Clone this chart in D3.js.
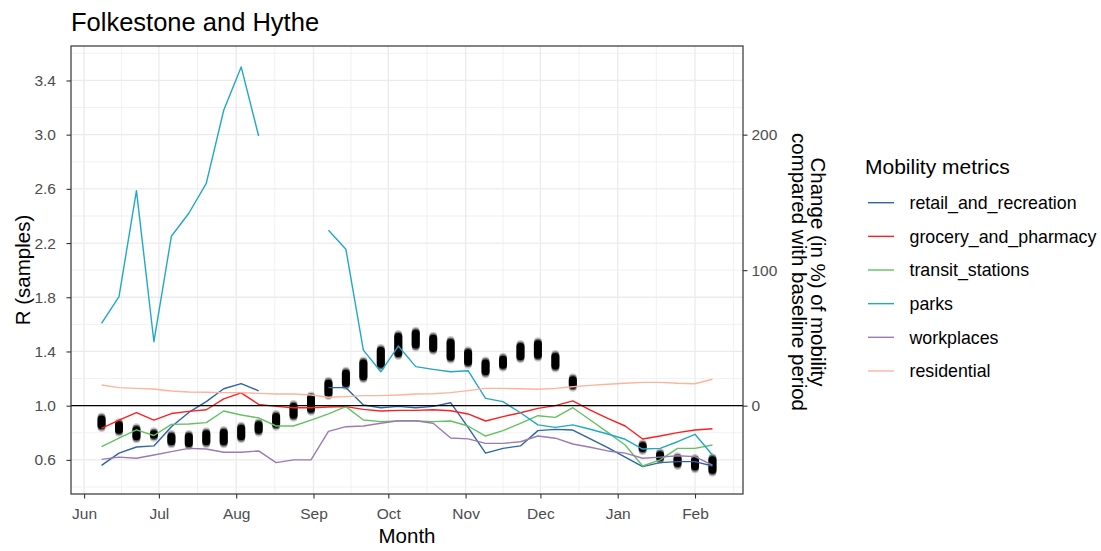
<!DOCTYPE html>
<html><head><meta charset="utf-8">
<script src="https://cdn.jsdelivr.net/npm/d3@7"></script>
<style>
body{margin:0;background:#fff}
svg{display:block}
text{font-family:"Liberation Sans",Arial,sans-serif}
</style>
</head><body>
<svg id="c" width="1101" height="551"></svg>
<script>
// ---------------- DATA ----------------
const weeks = ["2020-06-08","2020-06-15","2020-06-22","2020-06-29","2020-07-06","2020-07-13","2020-07-20","2020-07-27",
  "2020-08-03","2020-08-10","2020-08-17","2020-08-24","2020-08-31","2020-09-07","2020-09-14","2020-09-21","2020-09-28",
  "2020-10-05","2020-10-12","2020-10-19","2020-10-26","2020-11-02","2020-11-09","2020-11-16","2020-11-23","2020-11-30",
  "2020-12-07","2020-12-14","2020-12-21","2020-12-28","2021-01-04","2021-01-11","2021-01-18","2021-01-25","2021-02-01","2021-02-08"];

const retail_and_recreation = [-44,-35,-30.5,-29.7,-15.5,-5,3,12.5,16.3,11,null,null,null,13.3,13.3,0.5,-1.5,
  -0.5,-1.5,-0.5,2.2,-16,-35,-31.5,-29.7,-18.4,-17.5,-18,-24.5,-31,-38,-45,-42,-41.3,-41.3,-44.5];
const grocery_and_pharmacy = [-16.7,-10.6,-5.2,-10.6,-5.8,-4.2,-3,5,9.5,1,-0.5,-1.5,-1.5,-1,-0.7,-2.7,-3.9,
  -3.5,-3.5,-3,-3.7,-6.1,-11.3,-8.1,-5.2,-2,0,3.5,-3.2,-9.3,-15,-24.6,-22.4,-19.9,-17.9,-17];
const transit_stations = [-30.2,-24,-17.9,-22,-13.8,-13.5,-12.5,-3.9,-6.9,-9,-15,-15,-10.6,-6.1,-0.7,-10.6,-11.8,
  -11.3,-11.3,-11.8,-11.3,-15,-22.4,-18.4,-13,-7.4,-8.6,-1.5,-10.6,-19.7,-29,-44.5,-40,-31.5,-31.5,-29];
const parks = [60.8,80.4,158.7,47.2,125,142,164,218,250,199,null,null,null,129.5,115.4,41,25,
  44,28.8,26.8,25,25.8,5.4,3,-5.2,-14.2,-16,-14.2,-17.4,-20.9,-24.8,-32,-31.5,-26.6,-21.1,-36.4];
const workplaces = [-39.6,-38,-38.8,-36.4,-33.9,-31.5,-32,-34.4,-34.4,-33.4,-42,-40,-40,-19,-15.5,-15,-13,
  -11.1,-11.1,-13,-23.8,-24.5,-27.8,-27.8,-26.6,-22.4,-24,-28.3,-30.7,-33.4,-35,-38.8,-38,-37,-37.6,-43.8];
const residential = [15.3,13.3,12.8,12.3,10.8,10.1,9.9,9.6,9.6,9.1,8.6,8.6,7.9,6.2,6.7,7.4,7.4,
  7.9,8.6,8.8,9.6,11.1,12.8,12.8,12.5,12.1,12.8,14,15,15.8,16.5,17.2,17.2,16.5,16.2,19.5];

const seriesNames = ["retail_and_recreation","grocery_and_pharmacy","transit_stations","parks","workplaces","residential"];
const seriesValues = [retail_and_recreation, grocery_and_pharmacy, transit_stations, parks, workplaces, residential];
const seriesColors = ["#2e65a6","#ff1f1f","#62c262","#22a8c6","#9d79b6","#ffb39b"];

const rDates = ["2020-06-08","2020-06-15","2020-06-22","2020-06-29","2020-07-06","2020-07-13","2020-07-20","2020-07-27",
  "2020-08-03","2020-08-10","2020-08-17","2020-08-24","2020-08-31","2020-09-07","2020-09-14","2020-09-21","2020-09-28",
  "2020-10-05","2020-10-12","2020-10-19","2020-10-26","2020-11-02","2020-11-09","2020-11-16","2020-11-23","2020-11-30",
  "2020-12-07","2020-12-14","2021-01-11","2021-01-18","2021-01-25","2021-02-01","2021-02-08"];
const rHigh = [0.95,0.907,0.870,0.841,0.821,0.821,0.841,0.850,0.882,0.907,0.968,1.042,1.105,1.214,1.288,1.362,1.455,
  1.559,1.583,1.546,1.515,1.438,1.362,1.391,1.485,1.505,1.411,1.239,0.752,0.686,0.656,0.643,0.649];
const rLow = [0.805,0.771,0.722,0.734,0.686,0.673,0.686,0.686,0.722,0.771,0.815,0.882,0.925,1.042,1.116,1.165,1.257,
  1.337,1.399,1.374,1.31,1.272,1.202,1.251,1.313,1.325,1.244,1.103,0.636,0.570,0.525,0.501,0.476];

const monthTicks = ["2020-06-01","2020-07-01","2020-08-01","2020-09-01","2020-10-01","2020-11-01","2020-12-01","2021-01-01","2021-02-01"];
const monthLabels = ["Jun","Jul","Aug","Sep","Oct","Nov","Dec","Jan","Feb"];
const rTicks = [0.6,1.0,1.4,1.8,2.2,2.6,3.0,3.4];
const rMinor = [0.4,0.8,1.2,1.6,2.0,2.4,2.8,3.2,3.6];
const mobTicks = [0,100,200];

// ---------------- LAYOUT ----------------
const W = 1101, H = 551;
const P = {l:71, r:743, t:46, b:494};
const parse = d3.utcParse("%Y-%m-%d");
const svg = d3.select("#c");

const xDomain = [parse("2020-06-08"), parse("2021-02-08")];
const span = xDomain[1] - xDomain[0];
const x = d3.scaleUtc().domain([new Date(+xDomain[0] - 0.05*span), new Date(+xDomain[1] + 0.05*span)]).range([P.l, P.r]);
const rLim = [0.4985, 3.504];
const rSpan = rLim[1]-rLim[0];
const y = d3.scaleLinear().domain([rLim[0]-0.05*rSpan, rLim[1]+0.05*rSpan]).range([P.b, P.t]);
const yMob = d3.scaleLinear().domain(y.domain().map(v => (v-1)*100)).range([P.b, P.t]);

svg.append("rect").attr("width",W).attr("height",H).attr("fill","#fff");

// gridlines
const gGrid = svg.append("g");
const mt = monthTicks.map(parse);
const xMinor = [];
for (let i=0;i<mt.length-1;i++) xMinor.push(new Date((+mt[i]+ +mt[i+1])/2));
xMinor.push(new Date(+mt[mt.length-1] + (+mt[mt.length-1]- +mt[mt.length-2])/2));
gGrid.selectAll(".ymin").data(rMinor).join("line")
  .attr("x1",P.l).attr("x2",P.r).attr("y1",d=>y(d)).attr("y2",d=>y(d))
  .attr("stroke","#ebebeb").attr("stroke-width",0.7);
gGrid.selectAll(".xmin").data(xMinor.filter(d=>x(d)>P.l && x(d)<P.r)).join("line")
  .attr("y1",P.t).attr("y2",P.b).attr("x1",d=>x(d)).attr("x2",d=>x(d))
  .attr("stroke","#ebebeb").attr("stroke-width",0.7);
gGrid.selectAll(".ymaj").data(rTicks).join("line")
  .attr("x1",P.l).attr("x2",P.r).attr("y1",d=>y(d)).attr("y2",d=>y(d))
  .attr("stroke","#ebebeb").attr("stroke-width",1.3);
gGrid.selectAll(".xmaj").data(mt).join("line")
  .attr("y1",P.t).attr("y2",P.b).attr("x1",d=>x(d)).attr("x2",d=>x(d))
  .attr("stroke","#ebebeb").attr("stroke-width",1.3);

// R sample capsules
const gR = svg.append("g");
const cw = 8;
rDates.forEach((ds,i)=>{
  const cx = x(parse(ds)), yT = y(rHigh[i]), yB = y(rLow[i]);
  gR.append("rect").attr("x",cx-cw/2).attr("width",cw).attr("y",yT).attr("height",yB-yT)
    .attr("rx",cw/2).attr("fill","#000").attr("opacity",0.2);
  gR.append("rect").attr("x",cx-cw/2).attr("width",cw).attr("y",yT+1.5).attr("height",Math.max(0,yB-yT-3))
    .attr("rx",cw/2).attr("fill","#000").attr("opacity",0.5);
  gR.append("rect").attr("x",cx-cw/2).attr("width",cw).attr("y",yT+3).attr("height",Math.max(0,yB-yT-6))
    .attr("rx",cw/2).attr("fill","#000");
});

// mobility lines
const line = d3.line().defined(d=>d.v!=null).x(d=>x(d.t)).y(d=>y(1+d.v/100));
const gL = svg.append("g");
seriesValues.forEach((vals,si)=>{
  const data = weeks.map((w,i)=>({t:parse(w), v:vals[i]}));
  gL.append("path").datum(data).attr("d",line).attr("fill","none")
    .attr("stroke",seriesColors[si]).attr("stroke-width",1.4).attr("stroke-linejoin","round");
});

// horizontal reference line at R = 1
svg.append("line").attr("x1",P.l).attr("x2",P.r).attr("y1",y(1)).attr("y2",y(1))
  .attr("stroke","#000").attr("stroke-width",1.2);

// panel border
svg.append("rect").attr("x",P.l).attr("y",P.t).attr("width",P.r-P.l).attr("height",P.b-P.t)
  .attr("fill","none").attr("stroke","#333").attr("stroke-width",1.2);

// axes
const tickFont = 15.5;
function styleAxis(g){
  g.select(".domain").remove();
  g.selectAll(".tick line").attr("stroke","#333").attr("stroke-width",1.1);
  g.selectAll(".tick text").attr("fill","#4d4d4d").style("font-size",tickFont+"px")
    .style("font-family",'"Liberation Sans",Arial,sans-serif');
}
svg.append("g").attr("transform",`translate(${P.l},0)`)
  .call(d3.axisLeft(y).tickValues(rTicks).tickFormat(d3.format(".1f")).tickSize(4.5).tickPadding(10.5))
  .call(styleAxis);
svg.append("g").attr("transform",`translate(${P.r},0)`)
  .call(d3.axisRight(yMob).tickValues(mobTicks).tickFormat(d3.format("d")).tickSize(4.5).tickPadding(4))
  .call(styleAxis);
svg.append("g").attr("transform",`translate(0,${P.b})`)
  .call(d3.axisBottom(x).tickValues(mt).tickFormat((d,i)=>monthLabels[i]).tickSize(4.5).tickPadding(9.5))
  .call(styleAxis);

// titles
svg.append("text").attr("x",P.l).attr("y",31).text("Folkestone and Hythe")
  .style("font-size","25.5px").attr("fill","#000");
svg.append("text").attr("x",(P.l+P.r)/2).attr("y",543).attr("text-anchor","middle").text("Month")
  .style("font-size","20.5px").attr("fill","#000");
svg.append("text").attr("transform",`translate(30,${(P.t+P.b)/2}) rotate(-90)`).attr("text-anchor","middle")
  .text("R (samples)").style("font-size","20.5px").attr("fill","#000");
const rt = svg.append("text").attr("transform",`translate(811,${(P.t+P.b)/2 + 2}) rotate(90)`)
  .attr("text-anchor","middle").style("font-size","20.5px").attr("fill","#000");
rt.append("tspan").attr("x",0).attr("y",0).text("Change (in %) of mobility");
rt.append("tspan").attr("x",0).attr("y",19.5).text("compared with baseline period");

// legend
const lg = svg.append("g");
lg.append("text").attr("x",865).attr("y",174).text("Mobility metrics").style("font-size","21px").attr("fill","#000");
const legY0 = 202.7, legStep = 33.65;
seriesNames.forEach((n,i)=>{
  const yy = legY0 + i*legStep;
  lg.append("line").attr("x1",868).attr("x2",894).attr("y1",yy).attr("y2",yy)
    .attr("stroke",seriesColors[i]).attr("stroke-width",1.4);
  lg.append("text").attr("x",909.5).attr("y",yy).attr("dy","0.35em").text(n)
    .style("font-size","17.8px").attr("fill","#000");
});
</script>
</body></html>
